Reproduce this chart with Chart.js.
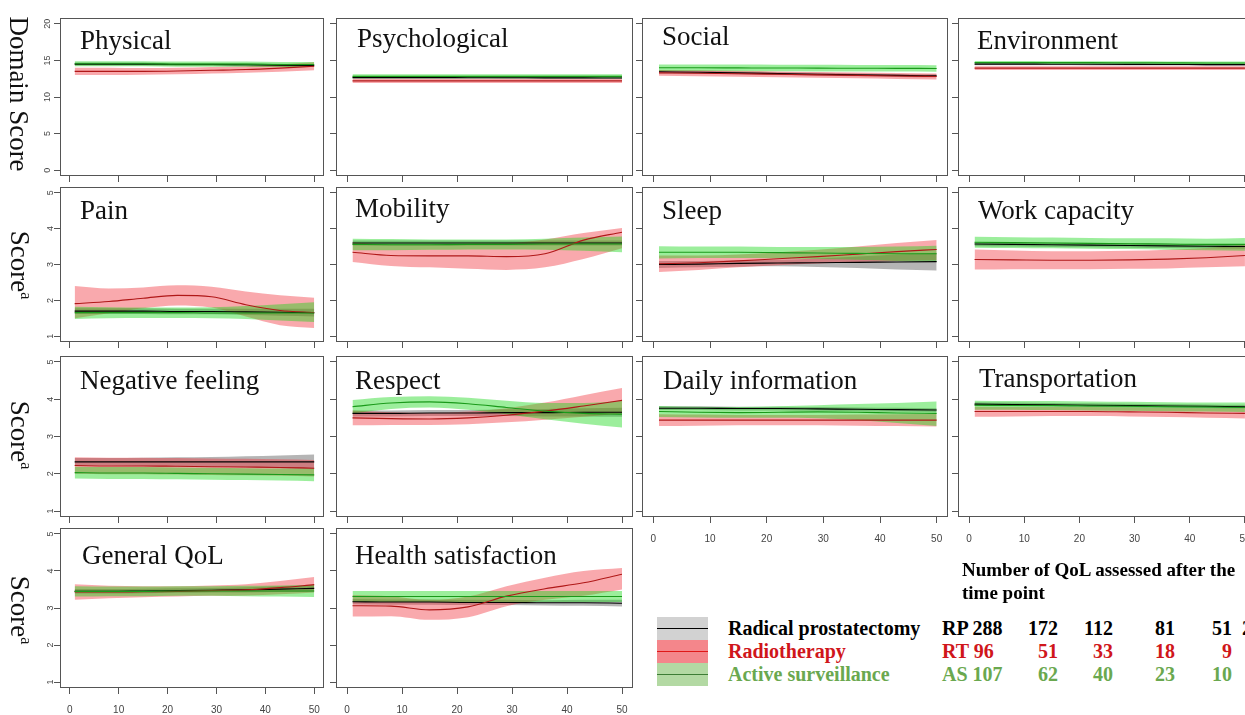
<!doctype html>
<html lang="en">
<head>
<meta charset="utf-8">
<title>QoL trajectories by treatment</title>
<style>
* { margin: 0; padding: 0; }
body { width: 1245px; height: 715px; overflow: hidden; background: #fff; font-family: 'Liberation Serif', serif; }
#page { position: relative; width: 1245px; height: 715px; overflow: hidden; }
.panel { position: absolute; }
.title { position: absolute; font-size: 27px; line-height: 1; color: #111; white-space: nowrap; }
.ylab { position: absolute; font-size: 27px; line-height: 1; color: #111; white-space: nowrap;
        transform: translate(-50%, -50%) rotate(90deg); }
.ylab sup { font-size: 16px; }
.swatch { position: absolute; left: 657px; width: 51px; height: 23px; }
.swatch i { position: absolute; left: 0; right: 0; top: 11px; height: 1px; }
.leg { position: absolute; left: 728px; font-size: 20px; font-weight: bold; line-height: 23px; white-space: nowrap; }
.head { position: absolute; left: 962px; font-size: 19px; font-weight: bold; line-height: 23px; white-space: nowrap; }
.cell { position: absolute; font-size: 20px; font-weight: bold; line-height: 23px; white-space: nowrap; }
.num { width: 60px; text-align: right; }
</style>
</head>
<body>
<div id="page"></div>

<script src="https://cdn.jsdelivr.net/npm/chart.js"></script>
<script>
// time points (x) and axis ticks
const xs = [1, 8, 15, 22, 29, 36, 43, 50];
const xTicks = [0, 10, 20, 30, 40, 50];
const domainTicks = [0, 5, 10, 15, 20];
const itemTicks = [1, 2, 3, 4, 5];

// Physical
const physRP   = [14.50,14.50,14.50,14.45,14.45,14.40,14.35,14.30];
const physRPlo = [14.30,14.30,14.30,14.25,14.25,14.20,14.15,14.10];
const physRPhi = [14.70,14.70,14.70,14.65,14.65,14.60,14.55,14.50];
const physRT   = [13.50,13.50,13.50,13.55,13.65,13.75,13.95,14.20];
const physRTlo = [13.00,13.00,13.05,13.10,13.20,13.30,13.45,13.65];
const physRThi = [14.00,14.00,13.95,14.00,14.10,14.20,14.45,14.75];
const physAS   = [14.55,14.55,14.55,14.50,14.50,14.50,14.45,14.45];
const physASlo = [14.20,14.20,14.20,14.15,14.15,14.15,14.10,14.10];
const physAShi = [14.90,14.90,14.90,14.85,14.85,14.85,14.80,14.80];
// Psychological
const psyRP   = [12.65,12.65,12.65,12.64,12.63,12.62,12.61,12.60];
const psyRPlo = [12.53,12.53,12.53,12.52,12.51,12.50,12.49,12.48];
const psyRPhi = [12.77,12.77,12.77,12.76,12.75,12.74,12.73,12.72];
const psyRT   = [12.20,12.20,12.20,12.20,12.20,12.20,12.20,12.20];
const psyRTlo = [11.92,11.92,11.92,11.92,11.92,11.92,11.92,11.92];
const psyRThi = [12.48,12.48,12.48,12.48,12.48,12.48,12.48,12.48];
const psyAS   = [12.82,12.82,12.82,12.82,12.82,12.82,12.82,12.82];
const psyASlo = [12.55,12.55,12.55,12.55,12.55,12.55,12.55,12.55];
const psyAShi = [13.10,13.10,13.10,13.10,13.10,13.10,13.10,13.10];
// Social
const socRP   = [13.45,13.38,13.30,13.20,13.10,13.02,12.95,12.90];
const socRPlo = [13.25,13.18,13.10,13.00,12.90,12.82,12.75,12.70];
const socRPhi = [13.65,13.58,13.50,13.40,13.30,13.22,13.15,13.10];
const socRT   = [13.30,13.25,13.18,13.10,13.02,12.95,12.87,12.80];
const socRTlo = [12.90,12.85,12.78,12.70,12.62,12.55,12.47,12.40];
const socRThi = [13.70,13.65,13.58,13.50,13.42,13.35,13.27,13.20];
const socAS   = [14.00,14.00,13.98,13.96,13.95,13.93,13.92,13.90];
const socASlo = [13.55,13.55,13.53,13.51,13.50,13.48,13.47,13.45];
const socAShi = [14.45,14.45,14.43,14.41,14.40,14.38,14.37,14.35];
// Environment
const envRP   = [14.50,14.50,14.48,14.47,14.46,14.45,14.43,14.42];
const envRPlo = [14.35,14.35,14.33,14.32,14.31,14.30,14.28,14.27];
const envRPhi = [14.65,14.65,14.63,14.62,14.61,14.60,14.58,14.57];
const envRT   = [13.95,13.95,13.95,13.95,13.95,13.95,13.95,13.95];
const envRTlo = [13.70,13.70,13.70,13.70,13.70,13.70,13.70,13.70];
const envRThi = [14.20,14.20,14.20,14.20,14.20,14.20,14.20,14.20];
const envAS   = [14.72,14.72,14.70,14.70,14.68,14.67,14.65,14.65];
const envASlo = [14.52,14.52,14.50,14.50,14.48,14.47,14.45,14.45];
const envAShi = [14.92,14.92,14.90,14.90,14.88,14.87,14.85,14.85];
// Pain
const painRP   = [1.70,1.70,1.70,1.69,1.69,1.68,1.67,1.66];
const painRPlo = [1.62,1.62,1.62,1.61,1.61,1.59,1.57,1.55];
const painRPhi = [1.78,1.78,1.78,1.77,1.77,1.77,1.77,1.77];
const painRT   = [1.91,1.97,2.06,2.14,2.10,1.88,1.72,1.66];
const painRTlo = [1.50,1.64,1.78,1.86,1.80,1.55,1.31,1.23];
const painRThi = [2.40,2.33,2.36,2.42,2.38,2.25,2.14,2.07];
const painAS   = [1.66,1.66,1.66,1.66,1.65,1.65,1.65,1.65];
const painASlo = [1.48,1.50,1.51,1.51,1.50,1.48,1.44,1.40];
const painAShi = [1.82,1.81,1.80,1.80,1.81,1.84,1.89,1.95];
// Mobility
const mobRP   = [3.60,3.60,3.60,3.60,3.60,3.60,3.60,3.60];
const mobRPlo = [3.53,3.53,3.53,3.53,3.53,3.53,3.53,3.53];
const mobRPhi = [3.67,3.67,3.67,3.67,3.67,3.67,3.67,3.67];
const mobRT   = [3.34,3.25,3.24,3.24,3.22,3.30,3.68,3.90];
const mobRTlo = [3.07,2.96,2.92,2.88,2.85,2.92,3.15,3.45];
const mobRThi = [3.62,3.55,3.55,3.58,3.60,3.70,3.88,4.02];
const mobAS   = [3.56,3.55,3.55,3.56,3.56,3.57,3.57,3.57];
const mobASlo = [3.40,3.40,3.41,3.42,3.42,3.41,3.38,3.34];
const mobAShi = [3.72,3.71,3.70,3.70,3.70,3.72,3.75,3.78];
// Sleep
const slpRP   = [3.00,3.01,3.03,3.04,3.05,3.06,3.07,3.08];
const slpRPlo = [2.90,2.92,2.94,2.95,2.93,2.90,2.86,2.83];
const slpRPhi = [3.10,3.10,3.12,3.13,3.17,3.22,3.28,3.33];
const slpRT   = [3.02,3.05,3.10,3.16,3.22,3.29,3.36,3.42];
const slpRTlo = [2.79,2.85,2.92,2.98,3.03,3.07,3.10,3.12];
const slpRThi = [3.25,3.25,3.28,3.34,3.41,3.50,3.60,3.68];
const slpAS   = [3.34,3.34,3.34,3.33,3.32,3.31,3.30,3.30];
const slpASlo = [3.17,3.18,3.18,3.17,3.15,3.13,3.10,3.08];
const slpAShi = [3.51,3.50,3.50,3.49,3.49,3.49,3.50,3.52];
// Work capacity
const wrkRP   = [3.57,3.56,3.55,3.54,3.53,3.52,3.51,3.50];
const wrkRPlo = [3.51,3.50,3.49,3.48,3.47,3.46,3.45,3.44];
const wrkRPhi = [3.63,3.62,3.61,3.60,3.59,3.58,3.57,3.56];
const wrkRT   = [3.14,3.13,3.12,3.12,3.13,3.15,3.19,3.25];
const wrkRTlo = [2.86,2.87,2.87,2.87,2.88,2.89,2.92,2.95];
const wrkRThi = [3.42,3.39,3.37,3.37,3.38,3.41,3.46,3.55];
const wrkAS   = [3.62,3.61,3.60,3.59,3.58,3.57,3.56,3.56];
const wrkASlo = [3.47,3.46,3.45,3.44,3.43,3.41,3.40,3.38];
const wrkAShi = [3.77,3.76,3.75,3.74,3.73,3.73,3.72,3.74];
// Negative feeling
const negRP   = [2.32,2.32,2.32,2.32,2.32,2.32,2.32,2.32];
const negRPlo = [2.22,2.22,2.21,2.20,2.19,2.17,2.15,2.12];
const negRPhi = [2.42,2.42,2.43,2.44,2.45,2.47,2.49,2.52];
const negRT   = [2.22,2.21,2.21,2.20,2.19,2.18,2.17,2.15];
const negRTlo = [2.00,1.99,1.99,1.98,1.97,1.96,1.95,1.93];
const negRThi = [2.44,2.43,2.43,2.42,2.41,2.40,2.39,2.37];
const negAS   = [2.03,2.02,2.02,2.01,2.00,1.99,1.98,1.97];
const negASlo = [1.87,1.86,1.86,1.85,1.84,1.83,1.82,1.80];
const negAShi = [2.19,2.18,2.18,2.17,2.16,2.15,2.14,2.14];
// Respect
const resRP   = [3.62,3.62,3.63,3.63,3.64,3.64,3.65,3.65];
const resRPlo = [3.54,3.54,3.55,3.55,3.55,3.54,3.54,3.53];
const resRPhi = [3.70,3.70,3.71,3.71,3.73,3.74,3.76,3.77];
const resRT   = [3.50,3.48,3.47,3.50,3.57,3.68,3.82,3.97];
const resRTlo = [3.30,3.31,3.31,3.33,3.38,3.45,3.53,3.62];
const resRThi = [3.70,3.65,3.63,3.67,3.76,3.91,4.11,4.30];
const resAS   = [3.80,3.90,3.93,3.88,3.78,3.68,3.62,3.60];
const resASlo = [3.62,3.74,3.78,3.72,3.60,3.46,3.34,3.24];
const resAShi = [3.98,4.06,4.08,4.04,3.96,3.90,3.90,3.95];
// Daily information
const dayRP   = [3.76,3.76,3.75,3.75,3.74,3.73,3.72,3.71];
const dayRPlo = [3.71,3.71,3.70,3.70,3.69,3.68,3.67,3.66];
const dayRPhi = [3.81,3.81,3.80,3.80,3.79,3.78,3.77,3.76];
const dayRT   = [3.44,3.44,3.44,3.44,3.44,3.44,3.44,3.44];
const dayRTlo = [3.28,3.29,3.30,3.30,3.30,3.29,3.28,3.27];
const dayRThi = [3.60,3.59,3.58,3.58,3.58,3.59,3.60,3.61];
const dayAS   = [3.67,3.65,3.64,3.65,3.66,3.65,3.63,3.62];
const dayASlo = [3.52,3.51,3.50,3.50,3.49,3.44,3.36,3.28];
const dayAShi = [3.82,3.80,3.79,3.81,3.84,3.87,3.90,3.94];
// Transportation
const trnRP   = [3.87,3.86,3.85,3.84,3.83,3.82,3.81,3.80];
const trnRPlo = [3.82,3.81,3.80,3.79,3.78,3.77,3.76,3.75];
const trnRPhi = [3.92,3.91,3.90,3.89,3.88,3.87,3.86,3.85];
const trnRT   = [3.67,3.67,3.67,3.67,3.66,3.65,3.63,3.62];
const trnRTlo = [3.53,3.54,3.55,3.55,3.54,3.52,3.50,3.48];
const trnRThi = [3.80,3.79,3.79,3.79,3.78,3.77,3.76,3.76];
const trnAS   = [3.84,3.83,3.83,3.82,3.81,3.80,3.79,3.78];
const trnASlo = [3.72,3.72,3.71,3.70,3.69,3.68,3.67,3.66];
const trnAShi = [3.96,3.95,3.95,3.94,3.93,3.92,3.91,3.91];
// General QoL
const genRP   = [3.45,3.45,3.46,3.47,3.48,3.49,3.51,3.53];
const genRPlo = [3.39,3.39,3.40,3.41,3.42,3.42,3.43,3.44];
const genRPhi = [3.51,3.51,3.52,3.53,3.54,3.56,3.59,3.62];
const genRT   = [3.43,3.43,3.44,3.45,3.47,3.49,3.55,3.63];
const genRTlo = [3.22,3.26,3.29,3.31,3.33,3.34,3.37,3.42];
const genRThi = [3.64,3.60,3.59,3.59,3.61,3.64,3.73,3.84];
const genAS   = [3.45,3.45,3.45,3.46,3.46,3.46,3.46,3.46];
const genASlo = [3.31,3.32,3.32,3.33,3.33,3.32,3.31,3.30];
const genAShi = [3.59,3.58,3.58,3.59,3.59,3.60,3.61,3.62];
// Health satisfaction
const hsRP   = [3.17,3.16,3.16,3.15,3.15,3.14,3.14,3.13];
const hsRPlo = [3.10,3.09,3.09,3.08,3.08,3.07,3.06,3.04];
const hsRPhi = [3.24,3.23,3.23,3.22,3.22,3.21,3.22,3.22];
const hsRT   = [3.06,3.05,2.95,3.03,3.32,3.52,3.68,3.91];
const hsRTlo = [2.77,2.78,2.68,2.75,3.05,3.22,3.33,3.50];
const hsRThi = [3.35,3.32,3.22,3.31,3.59,3.82,4.00,4.08];
const hsAS   = [3.31,3.31,3.31,3.31,3.31,3.31,3.31,3.31];
const hsASlo = [3.16,3.16,3.16,3.16,3.16,3.16,3.16,3.16];
const hsAShi = [3.46,3.46,3.46,3.46,3.46,3.46,3.46,3.46];

// number of QoL assessed after the time point
const rpCounts = [288, 172, 112, 81, 51, 21];
const rtCounts = [96, 51, 33, 18, 9, 3];
const asCounts = [107, 62, 40, 23, 10, 4];

// ---- layout (pixel boxes of the panel grid) ----
const colX = [[60, 324], [336, 633], [642, 948], [958, 1256]];
const rowY = [[18, 176], [187, 342], [356, 517], [528, 688]];

const groups = {
  RP: { band: 'rgba(100,100,100,0.48)', line: '#000000', bandOrder: 60, lineOrder: 30 },
  RT: { band: 'rgba(240,50,60,0.42)',   line: '#b01818', bandOrder: 50, lineOrder: 20 },
  AS: { band: 'rgba(20,215,20,0.42)',   line: '#1a9a1a', bandOrder: 40, lineOrder: 10 }
};

const panels = [
  { title: 'Physical', col: 0, row: 0, tx: 80, ty: 50, RP: [physRP, physRPlo, physRPhi], RT: [physRT, physRTlo, physRThi], AS: [physAS, physASlo, physAShi] },
  { title: 'Psychological', col: 1, row: 0, tx: 357, ty: 48, RP: [psyRP, psyRPlo, psyRPhi], RT: [psyRT, psyRTlo, psyRThi], AS: [psyAS, psyASlo, psyAShi] },
  { title: 'Social', col: 2, row: 0, tx: 662, ty: 46, RP: [socRP, socRPlo, socRPhi], RT: [socRT, socRTlo, socRThi], AS: [socAS, socASlo, socAShi] },
  { title: 'Environment', col: 3, row: 0, tx: 977, ty: 50, RP: [envRP, envRPlo, envRPhi], RT: [envRT, envRTlo, envRThi], AS: [envAS, envASlo, envAShi] },
  { title: 'Pain', col: 0, row: 1, tx: 80, ty: 220, RP: [painRP, painRPlo, painRPhi], RT: [painRT, painRTlo, painRThi], AS: [painAS, painASlo, painAShi] },
  { title: 'Mobility', col: 1, row: 1, tx: 355, ty: 218, RP: [mobRP, mobRPlo, mobRPhi], RT: [mobRT, mobRTlo, mobRThi], AS: [mobAS, mobASlo, mobAShi] },
  { title: 'Sleep', col: 2, row: 1, tx: 662, ty: 220, RP: [slpRP, slpRPlo, slpRPhi], RT: [slpRT, slpRTlo, slpRThi], AS: [slpAS, slpASlo, slpAShi] },
  { title: 'Work capacity', col: 3, row: 1, tx: 978, ty: 220, RP: [wrkRP, wrkRPlo, wrkRPhi], RT: [wrkRT, wrkRTlo, wrkRThi], AS: [wrkAS, wrkASlo, wrkAShi] },
  { title: 'Negative feeling', col: 0, row: 2, tx: 80, ty: 390, RP: [negRP, negRPlo, negRPhi], RT: [negRT, negRTlo, negRThi], AS: [negAS, negASlo, negAShi] },
  { title: 'Respect', col: 1, row: 2, tx: 355, ty: 390, RP: [resRP, resRPlo, resRPhi], RT: [resRT, resRTlo, resRThi], AS: [resAS, resASlo, resAShi] },
  { title: 'Daily information', col: 2, row: 2, tx: 663, ty: 390, xLabels: true, RP: [dayRP, dayRPlo, dayRPhi], RT: [dayRT, dayRTlo, dayRThi], AS: [dayAS, dayASlo, dayAShi] },
  { title: 'Transportation', col: 3, row: 2, tx: 979, ty: 388, xLabels: true, RP: [trnRP, trnRPlo, trnRPhi], RT: [trnRT, trnRTlo, trnRThi], AS: [trnAS, trnASlo, trnAShi] },
  { title: 'General QoL', col: 0, row: 3, tx: 82, ty: 565, xLabels: true, RP: [genRP, genRPlo, genRPhi], RT: [genRT, genRTlo, genRThi], AS: [genAS, genASlo, genAShi] },
  { title: 'Health satisfaction', col: 1, row: 3, tx: 355, ty: 565, xLabels: true, RP: [hsRP, hsRPlo, hsRPhi], RT: [hsRT, hsRTlo, hsRThi], AS: [hsAS, hsASlo, hsAShi] }
];

const page = document.getElementById('page');

// draws the R-style box round the plotting region
const frame = {
  id: 'frame',
  afterDatasetsDraw(chart) {
    const { ctx, chartArea: a } = chart;
    ctx.save();
    ctx.strokeStyle = '#555';
    ctx.lineWidth = 1;
    ctx.strokeRect(a.left + 0.5, a.top + 0.5, a.right - a.left - 1, a.bottom - a.top - 1);
    ctx.restore();
  }
};

function pts(arr) {
  return xs.map((x, i) => ({ x: x, y: arr[i] }));
}

function makePanel(p) {
  const [bx0, bx1] = colX[p.col];
  const [by0, by1] = rowY[p.row];
  const yW = p.col === 0 ? 30 : 12;
  const xH = p.xLabels ? 34 : 10;
  const pad = 8;
  const w = yW + (bx1 - bx0) + pad;
  const h = pad + (by1 - by0) + xH;

  const holder = document.createElement('div');
  holder.className = 'panel';
  holder.style.left = (bx0 - yW) + 'px';
  holder.style.top = (by0 - pad) + 'px';
  holder.style.width = w + 'px';
  holder.style.height = h + 'px';
  const cv = document.createElement('canvas');
  cv.width = w; cv.height = h;
  cv.style.width = w + 'px'; cv.style.height = h + 'px';
  holder.appendChild(cv);
  page.appendChild(holder);

  const datasets = [];
  ['RP', 'RT', 'AS'].forEach(g => {
    const [mid, lo, hi] = p[g];
    const st = groups[g];
    datasets.push({ label: g + ' lower', data: pts(lo), borderColor: 'rgba(0,0,0,0)', borderWidth: 1,
      pointRadius: 0, fill: false, cubicInterpolationMode: 'monotone', order: st.bandOrder });
    datasets.push({ label: g + ' upper', data: pts(hi), borderColor: 'rgba(0,0,0,0)', borderWidth: 1,
      pointRadius: 0, fill: '-1', backgroundColor: st.band, cubicInterpolationMode: 'monotone', order: st.bandOrder });
  });
  ['RP', 'RT', 'AS'].forEach(g => {
    const st = groups[g];
    datasets.push({ label: g, data: pts(p[g][0]), borderColor: st.line, borderWidth: 1.1,
      pointRadius: 0, fill: false, cubicInterpolationMode: 'monotone', order: st.lineOrder });
  });

  const domain = p.row === 0;
  const yVals = domain ? domainTicks : itemTicks;

  new Chart(cv, {
    type: 'line',
    data: { datasets },
    options: {
      responsive: false,
      animation: false,
      layout: { padding: { top: pad, right: pad, left: 0, bottom: 0 } },
      plugins: { legend: { display: false }, tooltip: { enabled: false } },
      scales: {
        x: {
          type: 'linear',
          min: -2, max: 52,
          afterBuildTicks: s => { s.ticks = xTicks.map(v => ({ value: v })); },
          afterFit: s => { s.height = xH; },
          border: { display: false },
          grid: { drawOnChartArea: false, drawTicks: true, tickLength: 6, color: '#555' },
          ticks: { display: !!p.xLabels, padding: 10, color: '#444', maxRotation: 0,
                   font: { family: 'Liberation Sans', size: 10 } }
        },
        y: {
          type: 'linear',
          min: domain ? -0.8 : 0.84,
          max: domain ? 20.8 : 5.16,
          afterBuildTicks: s => { s.ticks = yVals.map(v => ({ value: v })); },
          afterFit: s => { s.width = yW; },
          border: { display: false },
          grid: { drawOnChartArea: false, drawTicks: true, tickLength: 6, color: '#555' },
          ticks: { display: p.col === 0, padding: 1, color: '#444', minRotation: 90, maxRotation: 90,
                   crossAlign: 'center', font: { family: 'Liberation Sans', size: 9 } }
        }
      }
    },
    plugins: [frame]
  });

  const t = document.createElement('div');
  t.className = 'title';
  t.textContent = p.title;
  t.style.left = p.tx + 'px';
  t.style.top = (p.ty - 22.6) + 'px';
  page.appendChild(t);
}

panels.forEach(makePanel);

// row axis titles
function addHTML(html) { page.insertAdjacentHTML('beforeend', html); }
addHTML('<div class="ylab" style="left:18px;top:94px">Domain Score</div>');
[265, 435, 610].forEach(y => addHTML('<div class="ylab" style="left:20px;top:' + y + 'px">Score<sup>a</sup></div>'));

// legend
const legendRows = [
  { name: 'Radical prostatectomy', color: '#000000', fill: '#d2d2d2', line: '#000000', top: 617, code: 'RP', counts: rpCounts },
  { name: 'Radiotherapy', color: '#d0161b', fill: '#f4868b', line: '#e01818', top: 640, code: 'RT', counts: rtCounts },
  { name: 'Active surveillance', color: '#6aa84f', fill: '#b3d9a3', line: '#3d7d35', top: 663, code: 'AS', counts: asCounts }
];
const countRight = [1058, 1113, 1175, 1232, 1262];

addHTML('<div class="head" style="top:558px">Number of QoL assessed after the</div>');
addHTML('<div class="head" style="top:581px">time point</div>');

legendRows.forEach(r => {
  addHTML('<div class="swatch" style="top:' + r.top + 'px;background:' + r.fill + '"><i style="background:' + r.line + '"></i></div>');
  addHTML('<div class="leg" style="top:' + r.top + 'px;color:' + r.color + '">' + r.name + '</div>');
  addHTML('<div class="cell" style="left:942px;top:' + r.top + 'px;color:' + r.color + '">' + r.code + ' ' + r.counts[0] + '</div>');
  countRight.forEach((xr, i) => {
    addHTML('<div class="cell num" style="left:' + (xr - 60) + 'px;top:' + r.top + 'px;color:' + r.color + '">' + r.counts[i + 1] + '</div>');
  });
});
</script>
</body>
</html>
